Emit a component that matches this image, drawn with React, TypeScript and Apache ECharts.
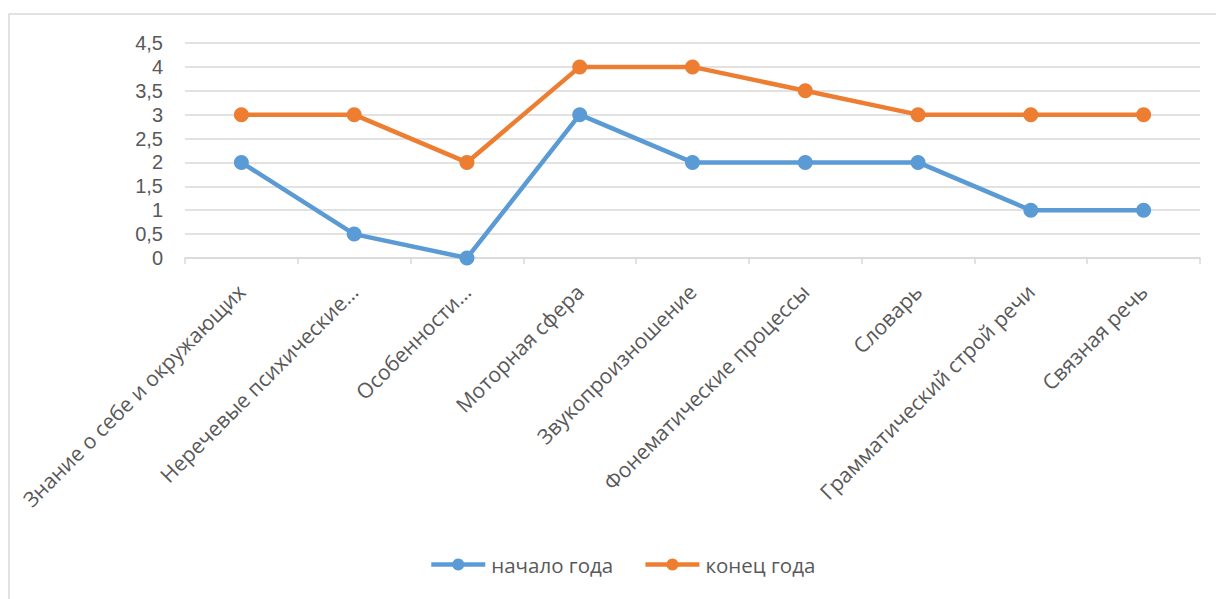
import React, { useEffect, useRef } from "react";
import * as echarts from "echarts";

const categories = [
  "Знание о себе и окружающих",
  "Неречевые психические…",
  "Особенности…",
  "Моторная сфера",
  "Звукопроизношение",
  "Фонематические процессы",
  "Словарь",
  "Грамматический строй речи",
  "Связная речь",
];
const startYear = [2, 0.5, 0, 3, 2, 2, 2, 1, 1];
const endYear = [3, 3, 2, 4, 4, 3.5, 3, 3, 3];
const seriesNames = ["начало года", "конец года"];

export default function App() {
  const ref = useRef<HTMLDivElement>(null);
  useEffect(() => {
    document.body.style.margin = "0";
    const chart = echarts.init(ref.current!, null, { renderer: "svg" });
    const font = "'Open Sans', sans-serif";
    chart.setOption({
      animation: false,
      textStyle: { fontFamily: font },
      graphic: [
        {
          type: "rect",
          shape: { x: 9, y: 14, width: 1400, height: 800 },
          style: { fill: "none", stroke: "#D9D9D9", lineWidth: 1.5 },
          silent: true,
          z: -1,
        },
      ],
      grid: { left: 185, right: 16, top: 43, bottom: 341, containLabel: false },
      legend: {
        bottom: 19,
        left: 424,
        itemWidth: 54,
        itemHeight: 15,
        itemGap: 30,
        lineStyle: { width: 4.5 },
        textStyle: { color: "#595959", fontSize: 20.5, fontFamily: font, padding: [0, 0, 0, 1] },
        data: seriesNames,
      },
      xAxis: {
        type: "category",
        data: categories,
        boundaryGap: true,
        axisLine: { lineStyle: { color: "#D9D9D9", width: 1.5 } },
        axisTick: { show: true, length: 6, lineStyle: { color: "#D9D9D9", width: 1.5 } },
        axisLabel: {
          rotate: 45,
          interval: 0,
          color: "#595959",
          fontSize: 21,
          lineHeight: 22,
          fontFamily: font,
          margin: 30,
        },
      },
      yAxis: {
        type: "value",
        min: 0,
        max: 4.5,
        interval: 0.5,
        axisLine: { show: false },
        axisTick: { show: false },
        splitLine: { lineStyle: { color: "#D9D9D9", width: 1.5 } },
        axisLabel: {
          color: "#595959",
          fontSize: 20,
          lineHeight: 20,
          fontFamily: "'Liberation Sans', Arial, sans-serif",
          margin: 22,
          formatter: (v: number) => String(v).replace(".", ","),
        },
      },
      series: [
        {
          name: seriesNames[0],
          type: "line",
          data: startYear,
          color: "#5B9BD5",
          symbol: "circle",
          symbolSize: 15,
          lineStyle: { width: 4.5 },
        },
        {
          name: seriesNames[1],
          type: "line",
          data: endYear,
          color: "#ED7D31",
          symbol: "circle",
          symbolSize: 15,
          lineStyle: { width: 4.5 },
        },
      ],
    });
    return () => chart.dispose();
  }, []);
  return <div ref={ref} style={{ width: 1216, height: 599, position: "absolute", left: 0, top: 0 }} />;
}
